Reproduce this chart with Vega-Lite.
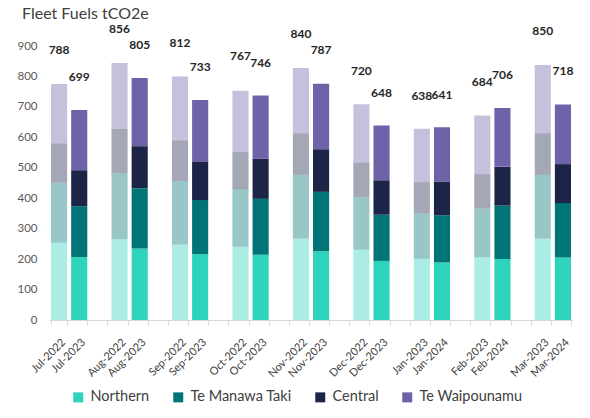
{
  "$schema": "https://vega.github.io/schema/vega-lite/v6.json",
  "width": 524,
  "height": 274,
  "autosize": {"type": "none"},
  "padding": {"left": 49, "top": 46, "right": 17, "bottom": 98},
  "background": "white",
  "title": {"text": "Fleet Fuels tCO2e", "anchor": "start", "frame": "group", "font": "Lato", "fontSize": 16, "fontWeight": "normal", "color": "#404040", "dx": -27, "dy": 16, "baseline": "alphabetic", "offset": 4},
  "config": {"view": {"stroke": null}, "font": "Lato"},
  "datasets": {
    "fuel": [
      {"Month": "Jul-2022", "Period": "Prior", "Region": "Northern", "Rank": 1, "tCO2e": 254},
      {"Month": "Jul-2022", "Period": "Prior", "Region": "Te Manawa Taki", "Rank": 2, "tCO2e": 197},
      {"Month": "Jul-2022", "Period": "Prior", "Region": "Central", "Rank": 3, "tCO2e": 129},
      {"Month": "Jul-2022", "Period": "Prior", "Region": "Te Waipounamu", "Rank": 4, "tCO2e": 195},
      {"Month": "Jul-2023", "Period": "Current", "Region": "Northern", "Rank": 1, "tCO2e": 207},
      {"Month": "Jul-2023", "Period": "Current", "Region": "Te Manawa Taki", "Rank": 2, "tCO2e": 167},
      {"Month": "Jul-2023", "Period": "Current", "Region": "Central", "Rank": 3, "tCO2e": 118},
      {"Month": "Jul-2023", "Period": "Current", "Region": "Te Waipounamu", "Rank": 4, "tCO2e": 198},
      {"Month": "Aug-2022", "Period": "Prior", "Region": "Northern", "Rank": 1, "tCO2e": 265},
      {"Month": "Aug-2022", "Period": "Prior", "Region": "Te Manawa Taki", "Rank": 2, "tCO2e": 217},
      {"Month": "Aug-2022", "Period": "Prior", "Region": "Central", "Rank": 3, "tCO2e": 146},
      {"Month": "Aug-2022", "Period": "Prior", "Region": "Te Waipounamu", "Rank": 4, "tCO2e": 216},
      {"Month": "Aug-2023", "Period": "Current", "Region": "Northern", "Rank": 1, "tCO2e": 235},
      {"Month": "Aug-2023", "Period": "Current", "Region": "Te Manawa Taki", "Rank": 2, "tCO2e": 198},
      {"Month": "Aug-2023", "Period": "Current", "Region": "Central", "Rank": 3, "tCO2e": 138},
      {"Month": "Aug-2023", "Period": "Current", "Region": "Te Waipounamu", "Rank": 4, "tCO2e": 224},
      {"Month": "Sep-2022", "Period": "Prior", "Region": "Northern", "Rank": 1, "tCO2e": 248},
      {"Month": "Sep-2022", "Period": "Prior", "Region": "Te Manawa Taki", "Rank": 2, "tCO2e": 209},
      {"Month": "Sep-2022", "Period": "Prior", "Region": "Central", "Rank": 3, "tCO2e": 133},
      {"Month": "Sep-2022", "Period": "Prior", "Region": "Te Waipounamu", "Rank": 4, "tCO2e": 210},
      {"Month": "Sep-2023", "Period": "Current", "Region": "Northern", "Rank": 1, "tCO2e": 216},
      {"Month": "Sep-2023", "Period": "Current", "Region": "Te Manawa Taki", "Rank": 2, "tCO2e": 178},
      {"Month": "Sep-2023", "Period": "Current", "Region": "Central", "Rank": 3, "tCO2e": 127},
      {"Month": "Sep-2023", "Period": "Current", "Region": "Te Waipounamu", "Rank": 4, "tCO2e": 202},
      {"Month": "Oct-2022", "Period": "Prior", "Region": "Northern", "Rank": 1, "tCO2e": 241},
      {"Month": "Oct-2022", "Period": "Prior", "Region": "Te Manawa Taki", "Rank": 2, "tCO2e": 189},
      {"Month": "Oct-2022", "Period": "Prior", "Region": "Central", "Rank": 3, "tCO2e": 122},
      {"Month": "Oct-2022", "Period": "Prior", "Region": "Te Waipounamu", "Rank": 4, "tCO2e": 201},
      {"Month": "Oct-2023", "Period": "Current", "Region": "Northern", "Rank": 1, "tCO2e": 214},
      {"Month": "Oct-2023", "Period": "Current", "Region": "Te Manawa Taki", "Rank": 2, "tCO2e": 184},
      {"Month": "Oct-2023", "Period": "Current", "Region": "Central", "Rank": 3, "tCO2e": 132},
      {"Month": "Oct-2023", "Period": "Current", "Region": "Te Waipounamu", "Rank": 4, "tCO2e": 207},
      {"Month": "Nov-2022", "Period": "Prior", "Region": "Northern", "Rank": 1, "tCO2e": 268},
      {"Month": "Nov-2022", "Period": "Prior", "Region": "Te Manawa Taki", "Rank": 2, "tCO2e": 209},
      {"Month": "Nov-2022", "Period": "Prior", "Region": "Central", "Rank": 3, "tCO2e": 136},
      {"Month": "Nov-2022", "Period": "Prior", "Region": "Te Waipounamu", "Rank": 4, "tCO2e": 215},
      {"Month": "Nov-2023", "Period": "Current", "Region": "Northern", "Rank": 1, "tCO2e": 226},
      {"Month": "Nov-2023", "Period": "Current", "Region": "Te Manawa Taki", "Rank": 2, "tCO2e": 195},
      {"Month": "Nov-2023", "Period": "Current", "Region": "Central", "Rank": 3, "tCO2e": 140},
      {"Month": "Nov-2023", "Period": "Current", "Region": "Te Waipounamu", "Rank": 4, "tCO2e": 215},
      {"Month": "Dec-2022", "Period": "Prior", "Region": "Northern", "Rank": 1, "tCO2e": 231},
      {"Month": "Dec-2022", "Period": "Prior", "Region": "Te Manawa Taki", "Rank": 2, "tCO2e": 173},
      {"Month": "Dec-2022", "Period": "Prior", "Region": "Central", "Rank": 3, "tCO2e": 114},
      {"Month": "Dec-2022", "Period": "Prior", "Region": "Te Waipounamu", "Rank": 4, "tCO2e": 191},
      {"Month": "Dec-2023", "Period": "Current", "Region": "Northern", "Rank": 1, "tCO2e": 194},
      {"Month": "Dec-2023", "Period": "Current", "Region": "Te Manawa Taki", "Rank": 2, "tCO2e": 152},
      {"Month": "Dec-2023", "Period": "Current", "Region": "Central", "Rank": 3, "tCO2e": 113},
      {"Month": "Dec-2023", "Period": "Current", "Region": "Te Waipounamu", "Rank": 4, "tCO2e": 180},
      {"Month": "Jan-2023", "Period": "Prior", "Region": "Northern", "Rank": 1, "tCO2e": 201},
      {"Month": "Jan-2023", "Period": "Prior", "Region": "Te Manawa Taki", "Rank": 2, "tCO2e": 149},
      {"Month": "Jan-2023", "Period": "Prior", "Region": "Central", "Rank": 3, "tCO2e": 103},
      {"Month": "Jan-2023", "Period": "Prior", "Region": "Te Waipounamu", "Rank": 4, "tCO2e": 175},
      {"Month": "Jan-2024", "Period": "Current", "Region": "Northern", "Rank": 1, "tCO2e": 189},
      {"Month": "Jan-2024", "Period": "Current", "Region": "Te Manawa Taki", "Rank": 2, "tCO2e": 155},
      {"Month": "Jan-2024", "Period": "Current", "Region": "Central", "Rank": 3, "tCO2e": 111},
      {"Month": "Jan-2024", "Period": "Current", "Region": "Te Waipounamu", "Rank": 4, "tCO2e": 178},
      {"Month": "Feb-2023", "Period": "Prior", "Region": "Northern", "Rank": 1, "tCO2e": 206},
      {"Month": "Feb-2023", "Period": "Prior", "Region": "Te Manawa Taki", "Rank": 2, "tCO2e": 160},
      {"Month": "Feb-2023", "Period": "Prior", "Region": "Central", "Rank": 3, "tCO2e": 113},
      {"Month": "Feb-2023", "Period": "Prior", "Region": "Te Waipounamu", "Rank": 4, "tCO2e": 193},
      {"Month": "Feb-2024", "Period": "Current", "Region": "Northern", "Rank": 1, "tCO2e": 200},
      {"Month": "Feb-2024", "Period": "Current", "Region": "Te Manawa Taki", "Rank": 2, "tCO2e": 176},
      {"Month": "Feb-2024", "Period": "Current", "Region": "Central", "Rank": 3, "tCO2e": 127},
      {"Month": "Feb-2024", "Period": "Current", "Region": "Te Waipounamu", "Rank": 4, "tCO2e": 193},
      {"Month": "Mar-2023", "Period": "Prior", "Region": "Northern", "Rank": 1, "tCO2e": 268},
      {"Month": "Mar-2023", "Period": "Prior", "Region": "Te Manawa Taki", "Rank": 2, "tCO2e": 209},
      {"Month": "Mar-2023", "Period": "Prior", "Region": "Central", "Rank": 3, "tCO2e": 136},
      {"Month": "Mar-2023", "Period": "Prior", "Region": "Te Waipounamu", "Rank": 4, "tCO2e": 225},
      {"Month": "Mar-2024", "Period": "Current", "Region": "Northern", "Rank": 1, "tCO2e": 205},
      {"Month": "Mar-2024", "Period": "Current", "Region": "Te Manawa Taki", "Rank": 2, "tCO2e": 179},
      {"Month": "Mar-2024", "Period": "Current", "Region": "Central", "Rank": 3, "tCO2e": 128},
      {"Month": "Mar-2024", "Period": "Current", "Region": "Te Waipounamu", "Rank": 4, "tCO2e": 196}
    ],
    "totals": [
      {"Month": "Jul-2022", "Total": 788},
      {"Month": "Jul-2023", "Total": 699},
      {"Month": "Aug-2022", "Total": 856},
      {"Month": "Aug-2023", "Total": 805},
      {"Month": "Sep-2022", "Total": 812},
      {"Month": "Sep-2023", "Total": 733},
      {"Month": "Oct-2022", "Total": 767},
      {"Month": "Oct-2023", "Total": 746},
      {"Month": "Nov-2022", "Total": 840},
      {"Month": "Nov-2023", "Total": 787},
      {"Month": "Dec-2022", "Total": 720},
      {"Month": "Dec-2023", "Total": 648},
      {"Month": "Jan-2023", "Total": 638},
      {"Month": "Jan-2024", "Total": 641},
      {"Month": "Feb-2023", "Total": 684},
      {"Month": "Feb-2024", "Total": 706},
      {"Month": "Mar-2023", "Total": 850},
      {"Month": "Mar-2024", "Total": 718}
    ]
  },
  "encoding": {
    "x": {
      "field": "Month",
      "type": "nominal",
      "title": null,
      "scale": {
        "domain": ["Jul-2022", "Jul-2023", "gap1", "Aug-2022", "Aug-2023", "gap2", "Sep-2022", "Sep-2023", "gap3", "Oct-2022", "Oct-2023", "gap4", "Nov-2022", "Nov-2023", "gap5", "Dec-2022", "Dec-2023", "gap6", "Jan-2023", "Jan-2024", "gap7", "Feb-2023", "Feb-2024", "gap8", "Mar-2023", "Mar-2024"],
        "paddingInner": 0.2,
        "paddingOuter": 0.1
      },
      "axis": {
        "labelExpr": "test(/^gap/, datum.value) ? '' : datum.value",
        "labelAngle": -45,
        "labelAlign": "right",
        "labelBaseline": "top",
        "labelFont": "Lato",
        "labelFontSize": 11,
        "labelColor": "#404040",
        "labelPadding": 11,
        "labelOffset": 0,
        "labelOverlap": false,
        "tickBand": "extent",
        "tickColor": "#D9D9D9",
        "tickSize": 5,
        "domainColor": "#D9D9D9",
        "grid": false
      }
    },
    "y": {
      "type": "quantitative",
      "title": null,
      "scale": {"domain": [0, 900], "nice": false},
      "axis": {"values": [0, 100, 200, 300, 400, 500, 600, 700, 800, 900], "labelOverlap": false, "domain": false, "ticks": false, "grid": false, "labelFont": "Lato", "labelFontSize": 11.5, "labelColor": "#595959", "labelPadding": 12}
    }
  },
  "layer": [
    {
      "data": {"name": "fuel"},
      "mark": {"type": "bar"},
      "encoding": {
        "y": {
          "field": "tCO2e",
          "type": "quantitative",
          "aggregate": "sum",
          "title": null,
          "scale": {"domain": [0, 900], "nice": false},
          "axis": {"values": [0, 100, 200, 300, 400, 500, 600, 700, 800, 900], "labelOverlap": false, "domain": false, "ticks": false, "grid": false, "labelFont": "Lato", "labelFontSize": 11.5, "labelColor": "#595959", "labelPadding": 12}
        },
        "color": {
          "field": "Region",
          "type": "nominal",
          "scale": {"domain": ["Northern", "Te Manawa Taki", "Central", "Te Waipounamu"], "range": ["#2ED3BC", "#007476", "#1C2447", "#6E63A8"]},
          "legend": {
            "title": null,
            "orient": "none",
            "direction": "horizontal",
            "legendX": 22,
            "legendY": 344,
            "symbolType": "square",
            "symbolSize": 100,
            "symbolStrokeWidth": 0,
            "labelFont": "Lato",
            "labelFontSize": 14.5,
            "labelColor": "#404040",
            "columnPadding": 21,
            "labelOffset": 5
          }
        },
        "opacity": {
          "field": "Period",
          "type": "ordinal",
          "scale": {"domain": ["Prior", "Current"], "range": [0.4, 1]},
          "legend": null
        },
        "order": {"field": "Rank", "type": "quantitative"}
      }
    },
    {
      "data": {"name": "totals"},
      "mark": {"type": "text", "font": "Lato", "fontSize": 12, "fontWeight": "bold", "color": "#262626", "baseline": "middle", "dy": -30},
      "encoding": {
        "y": {
          "field": "Total",
          "type": "quantitative",
          "title": null,
          "scale": {"domain": [0, 900], "nice": false},
          "axis": {"values": [0, 100, 200, 300, 400, 500, 600, 700, 800, 900], "labelOverlap": false, "domain": false, "ticks": false, "grid": false, "labelFont": "Lato", "labelFontSize": 11.5, "labelColor": "#595959", "labelPadding": 12}
        },
        "text": {"field": "Total", "type": "quantitative"}
      }
    }
  ]
}
